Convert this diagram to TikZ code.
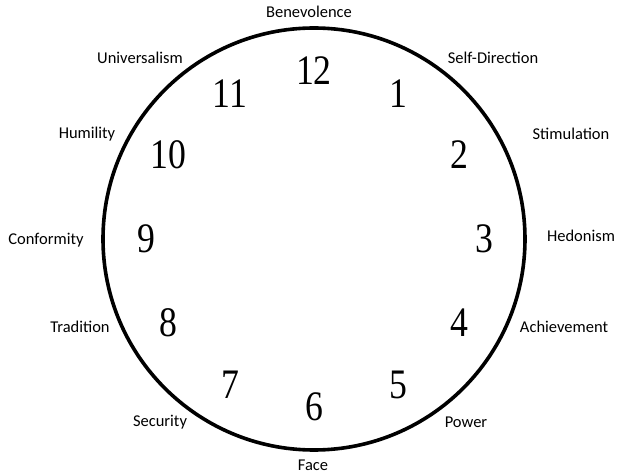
\documentclass[tikz,border=0pt]{standalone}
\usepackage{fontspec}
\usepackage{tikz}
\usetikzlibrary{positioning}
\newfontfamily\valuefont{Carlito}
\newfontfamily\hourfont{Liberation Serif}

\begin{document}
\begin{tikzpicture}[
    x=1pt, y=1pt,
    face/.style={draw=black, line width=3.6pt},
    hour/.style={inner sep=0pt, font=\hourfont\fontsize{42}{42}\selectfont, xscale=0.85},
    value/.style={inner sep=1pt, font=\valuefont\fontsize{16.5}{16.5}\selectfont}
]
\useasboundingbox (-314,-237) rectangle (307,239);

% Clock face
\node[face, circle, minimum size=422pt, inner sep=0pt] (clock) at (0,0) {};

% Hours
\node[hour] (h12) at (90:168) {12};
\node[hour] (h1) at (60:168) {1};
\node[hour] (h2) at (30:168) {2};
\node[hour] (h3) at (0:170) {3};
\node[hour] (h4) at (-30:168) {4};
\node[hour] (h5) at (-60:168) {5};
\node[hour] (h6) at (-90:168) {6};
\node[hour] (h7) at (-120:168) {7};
\node[hour] (h8) at (-150:168) {8};
\node[hour] (h9) at (180:168) {9};
\node[hour] (h10) at (150:168) {10};
\node[hour] (h11) at (120:168) {11};

% Values around the face
\node[value] (benevolence) at (-5,227) {Benevolence};
\node[value] (selfdir) at (179,181) {Self-Direction};
\node[value] (stimulation) at (257,105) {Stimulation};
\node[value] (hedonism) at (267,3) {Hedonism};
\node[value] (achievement) at (250,-88) {Achievement};
\node[value] (power) at (152,-183) {Power};
\node[value] (face) at (-1,-226) {Face};
\node[value] (security) at (-154,-183) {Security};
\node[value] (tradition) at (-234,-88) {Tradition};
\node[value] (conformity) at (-268,-1) {Conformity};
\node[value] (humility) at (-227,105) {Humility};
\node[value] (universalism) at (-174,181) {Universalism};

\end{tikzpicture}
\end{document}
